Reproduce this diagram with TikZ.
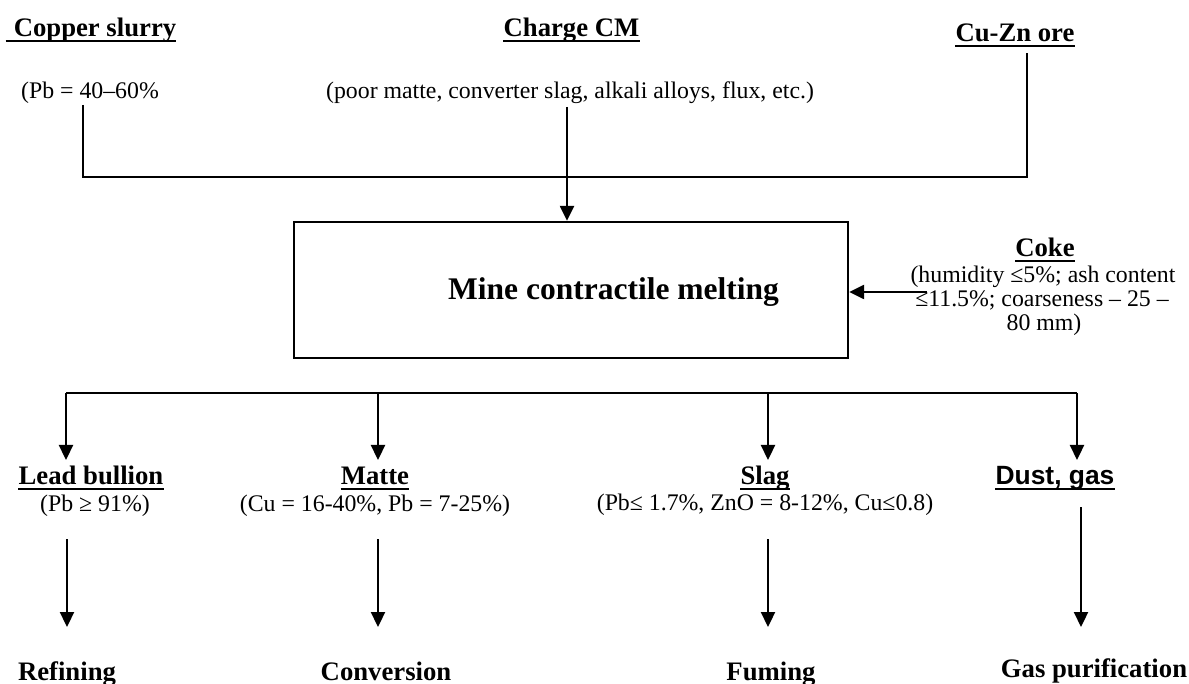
\documentclass[tikz,border=0pt]{standalone}
\usepackage{fontspec}
\setmainfont{Liberation Serif}
\newfontfamily\arialf{Liberation Sans}
\usetikzlibrary{arrows.meta}
\tikzset{
  ttl/.style={inner sep=0pt, anchor=base, font=\bfseries\fontsize{26.7pt}{30pt}\selectfont},
  txt/.style={inner sep=0pt, anchor=base, font=\fontsize{23.8pt}{25pt}\selectfont},
  ln/.style={line width=2.3pt, line join=miter},
  arr/.style={line width=2.3pt, -{Triangle[length=15pt,width=14pt]}},
  ul/.style={line width=2pt},
  mainbox/.style={draw, line width=2.3pt, minimum width=554pt, minimum height=136pt, inner sep=0pt}
}
\newcommand\ulnode[2][0pt]{\draw[ul] ([xshift=-#1,yshift=-4.5pt]#2.base west) -- ([yshift=-4.5pt]#2.base east);}
\begin{document}
\begin{tikzpicture}[x=1pt,y=-1pt]
\useasboundingbox (0,0) rectangle (1189,684);
% top inputs
\node[ttl] (cs) at (95,37) {Copper slurry};
\node[ttl] (cm) at (571.5,37) {Charge CM};
\node[ttl] (cz) at (1015,42) {Cu-Zn ore};
\ulnode[8pt]{cs}
\ulnode{cm}
\ulnode{cz}
\node[txt] (csp) at (90,99) {(Pb = 40–60\%};
\node[txt] (cmp) at (570,99) {(poor matte, converter slag, alkali alloys, flux, etc.)};
% main box
\node[mainbox] (box) at (571,290) {};
\node[inner sep=0pt, anchor=base west, font=\bfseries\fontsize{31.5pt}{34pt}\selectfont] (mcm) at (448,300) {Mine contractile melting};
% coke
\node[ttl] (coke) at (1045,257) {Coke};
\ulnode{coke}
\node[txt] (ck1) at (1043,283) {(humidity ≤5\%; ash content};
\node[txt] (ck2) at (1042,307) {≤11.5\%; coarseness – 25 –};
\node[txt] (ck3) at (1044,331) {80 mm)};
% top connectors
\coordinate (csd) at (83,105);
\coordinate (jl) at (83,176.7);
\coordinate (jr) at (1027,176.7);
\coordinate (czd) at (1027,53);
\draw[ln] (csd) -- (jl) -- (jr) -- (czd);
\coordinate (cmd) at (567,107);
\draw[arr] (cmd) -- (cmd |- box.north);
\coordinate (cki) at (927,292);
\draw[arr] (cki) -- (cki -| box.east);
% outputs
\node[ttl] (lead) at (91,484) {Lead bullion};
\ulnode{lead}
\node[txt] (leadp) at (95,511) {(Pb ≥ 91\%)};
\node[ttl] (matte) at (375,484) {Matte};
\ulnode{matte}
\node[txt] (mattep) at (375,511) {(Cu = 16-40\%, Pb = 7-25\%)};
\node[ttl] (slag) at (765,484) {Slag};
\ulnode{slag}
\node[txt] (slagp) at (765,510) {(Pb≤ 1.7\%, ZnO = 8-12\%, Cu≤0.8)};
\node[inner sep=0pt, anchor=base, font=\arialf\bfseries\fontsize{26.4pt}{30pt}\selectfont] (dust) at (1055,484) {Dust, gas};
\ulnode{dust}
% branch
\coordinate (b1) at (66,393);
\coordinate (b2) at (378,393);
\coordinate (b3) at (768,393);
\coordinate (b4) at (1077,393);
\draw[ln] (b1) -- (b4);
\draw[arr] (b1) -- ++(0,67);
\draw[arr] (b2) -- ++(0,67);
\draw[arr] (b3) -- ++(0,67);
\draw[arr] (b4) -- ++(0,67);
% final products
\node[ttl] (ref) at (67,680) {Refining};
\node[ttl] (conv) at (386,680) {Conversion};
\node[ttl] (fum) at (771,680) {Fuming};
\node[ttl] (gp) at (1094,677) {Gas purification};
\coordinate (s1) at (67,539);
\coordinate (s2) at (378,539);
\coordinate (s3) at (768,539);
\coordinate (s4) at (1081,507);
\coordinate (e1) at (67,627);
\coordinate (e2) at (378,627);
\coordinate (e3) at (768,627);
\coordinate (e4) at (1081,627);
\draw[arr] (s1) -- (e1);
\draw[arr] (s2) -- (e2);
\draw[arr] (s3) -- (e3);
\draw[arr] (s4) -- (e4);
\end{tikzpicture}
\end{document}
